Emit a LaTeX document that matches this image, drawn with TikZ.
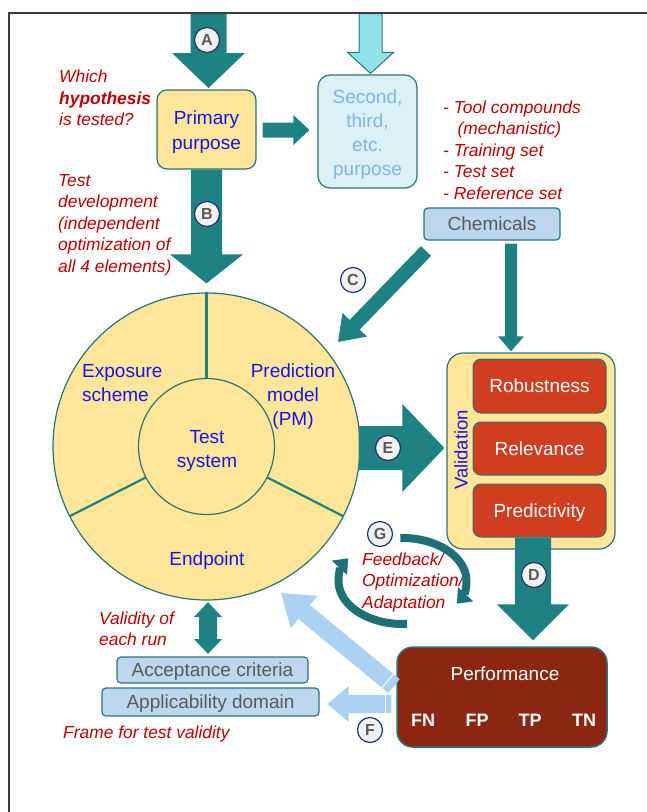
\documentclass[tikz,border=0pt]{standalone}
\usepackage{fontspec}
\setmainfont{Liberation Sans}
\usetikzlibrary{calc,arrows.meta}
\definecolor{tealA}{HTML}{1F8282}
\definecolor{tealB}{HTML}{2B7474}
\definecolor{tealG}{HTML}{1F6F76}
\definecolor{gold}{HTML}{FFE699}
\definecolor{bluetxt}{HTML}{1414EE}
\definecolor{redtxt}{HTML}{C00000}
\definecolor{cyanbox}{HTML}{DBF1F7}
\definecolor{cyantxt}{HTML}{80B4EA}
\definecolor{cyanarr}{HTML}{8FE1EA}
\definecolor{chembox}{HTML}{BDD7EE}
\definecolor{graytxt}{HTML}{595959}
\definecolor{orangebox}{HTML}{D03D1F}
\definecolor{perfbox}{HTML}{8A2612}
\definecolor{lightarr}{HTML}{ABD2F2}
\definecolor{framecol}{HTML}{3C3C3C}
\definecolor{navy}{HTML}{1F3570}
\definecolor{circfill}{HTML}{F2F2F2}

% #1 style, #2 start, #3 tip, #4 half shaft, #5 half head, #6 head length
\newcommand{\blockarrow}[6]{%
  \coordinate (bh) at ($(#3)!#6!(#2)$);
  \path[#1] ($(#2)!#4!90:(#3)$) -- ($(bh)!#4!90:(#3)$) -- ($(bh)!#5!90:(#3)$) -- (#3)
    -- ($(bh)!#5!-90:(#3)$) -- ($(bh)!#4!-90:(#3)$) -- ($(#2)!#4!-90:(#3)$) -- cycle;
}

\begin{document}
\begin{tikzpicture}[x=1pt,y=-1pt,
  redt/.style={text=redtxt, font=\fontsize{17.4}{21.5}\selectfont\itshape, align=left, inner sep=0, anchor=west},
  bluet/.style={text=bluetxt, font=\fontsize{19}{24}\selectfont, inner sep=0},
  lbl/.style={circle, draw=navy, line width=1.2pt, fill=circfill, minimum size=25pt, inner sep=0, text=graytxt, font=\fontsize{16}{16}\selectfont\bfseries},
  ybox/.style={draw=tealB, line width=1.2pt, fill=gold, inner sep=0},
  oneline/.style={text height=13.7pt, text depth=0pt},
  cbox/.style={draw=tealB, line width=1.2pt, fill=chembox, rounded corners=4pt, inner sep=0, text=graytxt, font=\fontsize{19}{24}\selectfont, oneline},
  obox/.style={draw=tealB, line width=1pt, fill=orangebox, rounded corners=8pt, inner sep=0, minimum width=133pt, text=white, font=\fontsize{19}{24}\selectfont, oneline},
  wtxt/.style={text=white, inner sep=0, oneline},
  tealfill/.style={fill=tealA},
  lightfill/.style={fill=lightarr}
]
\useasboundingbox (0,0) rectangle (647,812);

% ---------- boxes ----------
\node[ybox, rounded corners=10pt, minimum width=99pt, minimum height=79pt] (pp) at (206.5,129.5) {};
\node[bluet, align=center, font=\fontsize{19}{25}\selectfont] (ppt) at (206.5,132.5) {Primary\\purpose};
\node[draw=tealB, line width=1.2pt, fill=cyanbox, rounded corners=12pt, inner sep=0, minimum width=99pt, minimum height=113pt] (sp) at (367.5,131.5) {};
\node[text=cyantxt, align=center, inner sep=0, font=\fontsize{19}{24}\selectfont] (spt) at (367.5,135) {Second,\\third,\\etc.\\purpose};
\node[cbox, minimum width=136pt, minimum height=32pt] (chem) at (492,224) {Chemicals};

\node[circle, draw=tealB, line width=1.2pt, fill=gold, minimum size=307pt, inner sep=0] (ring) at (206.5,446.5) {};
\node[circle, draw=tealB, line width=1.2pt, fill=gold, minimum size=136pt, inner sep=0] (core) at (206.5,446.5) {};
\draw[tealA, line width=2.2pt] (core.90) -- (ring.90);
\draw[tealA, line width=2.2pt] (core.207) -- (ring.207);
\draw[tealA, line width=2.2pt] (core.333) -- (ring.333);

\node[bluet, align=left, anchor=west] (expo) at (82,383) {Exposure\\scheme};
\node[bluet, align=center] (predm) at (293,397) {Prediction\\model\\(PM)};
\node[bluet, align=center] (tsys) at (207,451) {Test\\system};
\node[bluet, oneline] (endp) at (207,559) {Endpoint};

\node[ybox, rounded corners=16pt, minimum width=168pt, minimum height=196pt] (val) at (531,451) {};
\node[bluet, rotate=90, font=\fontsize{18.5}{24}\selectfont] (valt) at (461,450) {Validation};
\node[obox, minimum height=54pt] (rob) at (539.5,386) {Robustness};
\node[obox, minimum height=53pt] (rel) at (539.5,448.5) {Relevance};
\node[obox, minimum height=53pt] (pred) at (539.5,510.5) {Predictivity};

\node[draw=tealB, line width=1.5pt, fill=perfbox, rounded corners=16pt, minimum width=210pt, minimum height=100pt, inner sep=0] (perf) at (502,697) {};
\node[wtxt, font=\fontsize{19}{24}\selectfont] (perft) at (505,674) {Performance};
\node[wtxt, font=\fontsize{18}{24}\selectfont\bfseries, text height=13pt] (fn) at (423,720) {FN};
\node[wtxt, font=\fontsize{18}{24}\selectfont\bfseries, text height=13pt] (fp) at (477,720) {FP};
\node[wtxt, font=\fontsize{18}{24}\selectfont\bfseries, text height=13pt] (tp) at (530,720) {TP};
\node[wtxt, font=\fontsize{18}{24}\selectfont\bfseries, text height=13pt] (tn) at (584,720) {TN};

\node[cbox, minimum width=191pt, minimum height=26pt] (acc) at (212.5,670) {Acceptance criteria};
\node[cbox, minimum width=217pt, minimum height=28pt] (app) at (210.5,702) {Applicability domain};

% ---------- red texts ----------
\node[redt] (q1) at (59,98) {Which\\\textbf{hypothesis}\\is tested?};
\node[redt] (q2) at (58,225) {Test\\development\\(independent\\optimization of\\all 4 elements)};
\node[redt] (lst) at (443,150) {- Tool compounds\\\hspace*{14.5pt}(mechanistic)\\- Training set\\- Test set\\- Reference set};
\node[redt] (fb) at (362,582) {Feedback/\\Optimization/\\Adaptation};
\node[redt] (vr) at (99,629) {Validity of\\each run};
\node[redt] (fr) at (63,734) {Frame for test validity};

% ---------- block arrows ----------
\coordinate (aS) at (208.5,13); \coordinate (aT) at (208.5,88);
\blockarrow{tealfill}{aS}{aT}{18pt}{36.5pt}{35pt}
\coordinate (bS) at (pp.south); \coordinate (bT) at ($(ring.north)+(0,-9)$);
\blockarrow{tealfill}{bS}{bT}{15.5pt}{36.5pt}{29pt}
\coordinate (pS) at ($(pp.east)+(6,0.5)$); \coordinate (pT) at ($(sp.west)+(-8,-1.5)$);
\blockarrow{tealfill}{pS}{pT}{7.5pt}{15pt}{16pt}
\coordinate (cS) at (370.5,13.5); \coordinate (cT) at ($(sp.north)+(3,-1)$);
\blockarrow{fill=cyanarr, draw=tealB, line width=1pt}{cS}{cT}{11.5pt}{23pt}{21pt}
\coordinate (kS) at ($(chem.south)+(19,3)$); \coordinate (kT) at ($(val.north)+(-20,-1)$);
\blockarrow{tealfill}{kS}{kT}{6pt}{13pt}{15pt}
\coordinate (gS) at (426,251); \coordinate (gT) at (338,342);
\blockarrow{tealfill}{gS}{gT}{7pt}{17pt}{24pt}
\coordinate (eS) at ($(ring.east)+(-2,1.5)$); \coordinate (eT) at ($(val.west)+(-2,-3)$);
\blockarrow{tealfill}{eS}{eT}{22pt}{44pt}{42pt}
\coordinate (dS) at ($(pred.south)+(-6.5,0)$); \coordinate (dT) at ($(perf.north)+(31,-6)$);
\blockarrow{tealfill}{dS}{dT}{18pt}{36pt}{36pt}
\coordinate (lS) at (394,686); \coordinate (lT) at (281,593);
\blockarrow{lightfill}{lS}{lT}{9pt}{21pt}{30pt}
\coordinate (fS) at ($(perf.west)+(-5,7)$); \coordinate (fT) at ($(app.east)+(8,2)$);
\blockarrow{lightfill}{fS}{fT}{9pt}{18pt}{21pt}
% white separators
\coordinate (fw) at ($(fS)!6pt!(fT)$);
\draw[white, line width=1pt] ($(fw)!10pt!90:(fT)$) -- ($(fw)!10pt!-90:(fT)$);
\coordinate (lw) at ($(lS)!8pt!(lT)$);
\draw[white, line width=1pt] ($(lw)!10pt!90:(lT)$) -- ($(lw)!10pt!-90:(lT)$);

% double arrow
\coordinate (d1) at (208,602); \coordinate (d2) at (208,654);
\coordinate (h1) at ($(d1)!15pt!(d2)$); \coordinate (h2) at ($(d2)!15pt!(d1)$);
\fill[tealA] (d1) -- ($(h1)!14pt!90:(d2)$) -- ($(h1)!9pt!90:(d2)$) -- ($(h2)!9pt!90:(d2)$) -- ($(h2)!14pt!90:(d2)$) -- (d2)
  -- ($(h2)!14pt!-90:(d2)$) -- ($(h2)!9pt!-90:(d2)$) -- ($(h1)!9pt!-90:(d2)$) -- ($(h1)!14pt!-90:(d2)$) -- cycle;

% feedback loop arrows
\coordinate (gc) at (402.5,581);
\draw[tealG, line width=8pt, -{Triangle[width=20pt,length=13pt]}] ($(gc)+({64*cos(86)},{43*sin(86)})$) arc[start angle=86, end angle=212, x radius=64, y radius=43];
\draw[tealG, line width=8pt, -{Triangle[width=20pt,length=13pt]}] ($(gc)+({64*cos(268)},{43*sin(268)})$) arc[start angle=268, end angle=392, x radius=64, y radius=43];

% ---------- circle labels ----------
\node[lbl] (la) at (207,40) {A};
\node[lbl] (lb) at (207,214) {B};
\node[lbl] (lc) at (353,280) {C};
\node[lbl] (le) at (388,448) {E};
\node[lbl] (lg) at (380,534) {G};
\node[lbl] (ld) at (534,575) {D};
\node[lbl] (lf) at (370,730) {F};

% frame
\draw[framecol, line width=1.5pt] (9,812) -- (9,13) -- (647,13);
\end{tikzpicture}
\end{document}
